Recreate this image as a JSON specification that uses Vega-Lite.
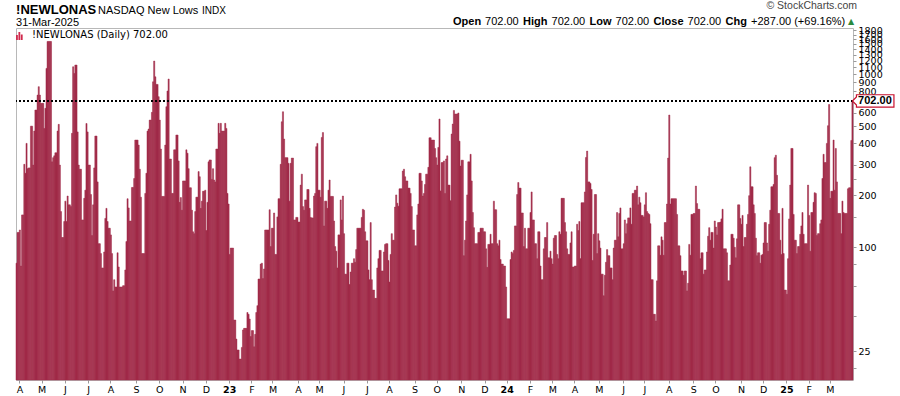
{
"$schema":"https://vega.github.io/schema/vega-lite/v6.json",
"width":837,"height":352,
"autosize":{"type":"none"},
"padding":{"left":16,"top":28,"right":47,"bottom":16},
"background":"white",
"config":{"view":{"stroke":"#b8b8b8","strokeWidth":1},"axis":{"grid":false,"domain":false,"title":null,"labelFont":"DejaVu Sans","labelColor":"#000000","tickColor":"#9a9a9a"}},
"data":{"values":[
{"i":0,"v":81},{"i":1,"v":122},{"i":2,"v":122},{"i":3,"v":126},{"i":4,"v":78},{"i":5,"v":154},{"i":6,"v":154},{"i":7,"v":302},{"i":8,"v":268},{"i":9,"v":399},
{"i":10,"v":285},{"i":11,"v":288},{"i":12,"v":288},{"i":13,"v":502},{"i":14,"v":502},{"i":15,"v":299},{"i":16,"v":470},{"i":17,"v":622},{"i":18,"v":622},{"i":19,"v":759},
{"i":20,"v":849},{"i":21,"v":759},{"i":22,"v":679},{"i":23,"v":680},{"i":24,"v":680},{"i":25,"v":487},{"i":26,"v":636},{"i":27,"v":1083},{"i":28,"v":1550},{"i":29,"v":1550},
{"i":30,"v":1550},{"i":31,"v":1550},{"i":32,"v":312},{"i":33,"v":330},{"i":34,"v":338},{"i":35,"v":352},{"i":36,"v":352},{"i":37,"v":470},{"i":38,"v":514},{"i":39,"v":299},
{"i":40,"v":161},{"i":41,"v":114},{"i":42,"v":114},{"i":43,"v":141},{"i":44,"v":185},{"i":45,"v":141},{"i":46,"v":198},{"i":47,"v":176},{"i":48,"v":176},{"i":49,"v":172},
{"i":50,"v":456},{"i":51,"v":1107},{"i":52,"v":1013},{"i":53,"v":1132},{"i":54,"v":1132},{"i":55,"v":465},{"i":56,"v":299},{"i":57,"v":283},{"i":58,"v":283},{"i":59,"v":144},
{"i":60,"v":144},{"i":61,"v":192},{"i":62,"v":214},{"i":63,"v":520},{"i":64,"v":465},{"i":65,"v":299},{"i":66,"v":299},{"i":67,"v":202},{"i":68,"v":117},{"i":69,"v":176},
{"i":70,"v":288},{"i":71,"v":440},{"i":72,"v":440},{"i":73,"v":239},{"i":74,"v":105},{"i":75,"v":105},{"i":76,"v":92},{"i":77,"v":76},{"i":78,"v":76},{"i":79,"v":94},
{"i":80,"v":147},{"i":81,"v":168},{"i":82,"v":141},{"i":83,"v":129},{"i":84,"v":129},{"i":85,"v":118},{"i":86,"v":92},{"i":87,"v":56},{"i":88,"v":65},{"i":89,"v":59},
{"i":90,"v":59},{"i":91,"v":93},{"i":92,"v":77},{"i":93,"v":59},{"i":94,"v":59},{"i":95,"v":59},{"i":96,"v":60},{"i":97,"v":60},{"i":98,"v":74},{"i":99,"v":108},
{"i":100,"v":191},{"i":101,"v":169},{"i":102,"v":142},{"i":103,"v":142},{"i":104,"v":222},{"i":105,"v":222},{"i":106,"v":250},{"i":107,"v":417},{"i":108,"v":417},{"i":109,"v":417},
{"i":110,"v":390},{"i":111,"v":283},{"i":112,"v":195},{"i":113,"v":92},{"i":114,"v":92},{"i":115,"v":92},{"i":116,"v":205},{"i":117,"v":268},{"i":118,"v":470},{"i":119,"v":483},
{"i":120,"v":544},{"i":121,"v":544},{"i":122,"v":603},{"i":123,"v":906},{"i":124,"v":1194},{"i":125,"v":968},{"i":126,"v":875},{"i":127,"v":875},{"i":128,"v":743},{"i":129,"v":544},
{"i":130,"v":370},{"i":131,"v":197},{"i":132,"v":197},{"i":133,"v":197},{"i":134,"v":390},{"i":135,"v":650},{"i":136,"v":801},{"i":137,"v":940},{"i":138,"v":324},{"i":139,"v":324},
{"i":140,"v":205},{"i":141,"v":205},{"i":142,"v":366},{"i":143,"v":366},{"i":144,"v":446},{"i":145,"v":446},{"i":146,"v":316},{"i":147,"v":182},{"i":148,"v":194},{"i":149,"v":164},
{"i":150,"v":242},{"i":151,"v":242},{"i":152,"v":242},{"i":153,"v":366},{"i":154,"v":350},{"i":155,"v":285},{"i":156,"v":221},{"i":157,"v":221},{"i":158,"v":164},{"i":159,"v":123},
{"i":160,"v":120},{"i":161,"v":161},{"i":162,"v":195},{"i":163,"v":195},{"i":164,"v":274},{"i":165,"v":256},{"i":166,"v":168},{"i":167,"v":185},{"i":168,"v":211},{"i":169,"v":211},
{"i":170,"v":214},{"i":171,"v":125},{"i":172,"v":182},{"i":173,"v":312},{"i":174,"v":320},{"i":175,"v":320},{"i":176,"v":247},{"i":177,"v":285},{"i":178,"v":245},{"i":179,"v":239},
{"i":180,"v":370},{"i":181,"v":370},{"i":182,"v":521},{"i":183,"v":456},{"i":184,"v":521},{"i":185,"v":470},{"i":186,"v":470},{"i":187,"v":470},{"i":188,"v":521},
{"i":189,"v":487},{"i":190,"v":205},{"i":191,"v":178},{"i":192,"v":91},{"i":193,"v":99},{"i":194,"v":99},{"i":195,"v":99},{"i":196,"v":38},{"i":197,"v":38},{"i":198,"v":29.5},
{"i":199,"v":25.5},{"i":200,"v":25.5},{"i":201,"v":22.6},{"i":202,"v":22.6},{"i":203,"v":26.4},{"i":204,"v":33.3},{"i":205,"v":34},{"i":206,"v":34},{"i":207,"v":34},{"i":208,"v":42},
{"i":209,"v":41},{"i":210,"v":38.5},{"i":211,"v":30.5},{"i":212,"v":33},{"i":213,"v":33},{"i":214,"v":26.6},{"i":215,"v":31.4},{"i":216,"v":42},{"i":217,"v":46},{"i":218,"v":65.6},
{"i":219,"v":65.6},{"i":220,"v":80},{"i":221,"v":81},{"i":222,"v":66},{"i":223,"v":75},{"i":224,"v":126},{"i":225,"v":126},{"i":226,"v":126},{"i":227,"v":126},{"i":228,"v":165},
{"i":229,"v":101},{"i":230,"v":129},{"i":231,"v":129},{"i":232,"v":158},{"i":233,"v":91},{"i":234,"v":91},{"i":235,"v":150},{"i":236,"v":191},{"i":237,"v":191},{"i":238,"v":302},
{"i":239,"v":532},{"i":240,"v":608},{"i":241,"v":423},{"i":242,"v":330},{"i":243,"v":330},{"i":244,"v":330},{"i":245,"v":306},{"i":246,"v":185},{"i":247,"v":306},{"i":248,"v":328},
{"i":249,"v":328},{"i":250,"v":144},{"i":251,"v":144},{"i":252,"v":149},{"i":253,"v":149},{"i":254,"v":140},{"i":255,"v":140},{"i":256,"v":229},{"i":257,"v":265},{"i":258,"v":172},
{"i":259,"v":164},{"i":260,"v":188},{"i":261,"v":188},{"i":262,"v":216},{"i":263,"v":216},{"i":264,"v":168},{"i":265,"v":149},{"i":266,"v":148},{"i":267,"v":148},{"i":268,"v":198},
{"i":269,"v":205},{"i":270,"v":382},{"i":271,"v":399},{"i":272,"v":214},{"i":273,"v":214},{"i":274,"v":195},{"i":275,"v":432},{"i":276,"v":461},{"i":277,"v":133},{"i":278,"v":185},
{"i":279,"v":185},{"i":280,"v":168},{"i":281,"v":214},{"i":282,"v":245},{"i":283,"v":197},{"i":284,"v":197},{"i":285,"v":197},{"i":286,"v":142},{"i":287,"v":101},{"i":288,"v":95},
{"i":289,"v":76},{"i":290,"v":118},{"i":291,"v":118},{"i":292,"v":188},{"i":293,"v":144},{"i":294,"v":198},{"i":295,"v":120},{"i":296,"v":70},{"i":297,"v":70},{"i":298,"v":81},
{"i":299,"v":81},{"i":300,"v":61},{"i":301,"v":72},{"i":302,"v":81},{"i":303,"v":81},{"i":304,"v":86},{"i":305,"v":82},{"i":306,"v":97},{"i":307,"v":129},{"i":308,"v":129},
{"i":309,"v":129},{"i":310,"v":129},{"i":311,"v":149},{"i":312,"v":166},{"i":313,"v":164},{"i":314,"v":123},{"i":315,"v":109},{"i":316,"v":109},{"i":317,"v":74},{"i":318,"v":65},
{"i":319,"v":139},{"i":320,"v":65},{"i":321,"v":56.6},{"i":322,"v":56.6},{"i":323,"v":50.7},{"i":324,"v":50.7},{"i":325,"v":76},{"i":326,"v":86},{"i":327,"v":96},{"i":328,"v":96},
{"i":329,"v":73},{"i":330,"v":73},{"i":331,"v":94},{"i":332,"v":104},{"i":333,"v":105},{"i":334,"v":105},{"i":335,"v":84},{"i":336,"v":63},{"i":337,"v":91},{"i":338,"v":120},
{"i":339,"v":110},{"i":340,"v":110},{"i":341,"v":171},{"i":342,"v":201},{"i":343,"v":180},{"i":344,"v":173},{"i":345,"v":218},{"i":346,"v":218},{"i":347,"v":218},{"i":348,"v":276},
{"i":349,"v":283},{"i":350,"v":256},{"i":351,"v":242},{"i":352,"v":242},{"i":353,"v":220},{"i":354,"v":220},{"i":355,"v":205},{"i":356,"v":172},{"i":357,"v":126},{"i":358,"v":126},
{"i":359,"v":102},{"i":360,"v":102},{"i":361,"v":154},{"i":362,"v":178},{"i":363,"v":268},{"i":364,"v":268},{"i":365,"v":242},{"i":366,"v":198},{"i":367,"v":205},{"i":368,"v":231},
{"i":369,"v":265},{"i":370,"v":265},{"i":371,"v":290},{"i":372,"v":430},{"i":373,"v":430},{"i":374,"v":417},{"i":375,"v":417},{"i":376,"v":417},{"i":377,"v":373},{"i":378,"v":330},
{"i":379,"v":299},{"i":380,"v":378},{"i":381,"v":552},{"i":382,"v":212},{"i":383,"v":309},{"i":384,"v":309},{"i":385,"v":316},{"i":386,"v":205},{"i":387,"v":324},{"i":388,"v":338},
{"i":389,"v":229},{"i":390,"v":229},{"i":391,"v":186},{"i":392,"v":452},{"i":393,"v":516},{"i":394,"v":619},{"i":395,"v":590},{"i":396,"v":590},{"i":397,"v":590},{"i":398,"v":598},
{"i":399,"v":411},{"i":400,"v":295},{"i":401,"v":319},{"i":402,"v":319},{"i":403,"v":89.5},{"i":404,"v":110},{"i":405,"v":142},{"i":406,"v":201},{"i":407,"v":312},{"i":408,"v":312},
{"i":409,"v":345},{"i":410,"v":242},{"i":411,"v":159},{"i":412,"v":130},{"i":413,"v":105},{"i":414,"v":105},{"i":415,"v":105},{"i":416,"v":122},{"i":417,"v":122},{"i":418,"v":129},
{"i":419,"v":129},{"i":420,"v":129},{"i":421,"v":123},{"i":422,"v":123},{"i":423,"v":98},{"i":424,"v":76.6},{"i":425,"v":104},{"i":426,"v":104},{"i":427,"v":119},{"i":428,"v":105},
{"i":429,"v":105},{"i":430,"v":185},{"i":431,"v":165},{"i":432,"v":165},{"i":433,"v":105},{"i":434,"v":102},{"i":435,"v":110},{"i":436,"v":85},{"i":437,"v":80},{"i":438,"v":80},
{"i":439,"v":78},{"i":440,"v":78},{"i":441,"v":59},{"i":442,"v":38.6},{"i":443,"v":38.6},{"i":444,"v":38.6},{"i":445,"v":85},{"i":446,"v":94},{"i":447,"v":92},{"i":448,"v":96},
{"i":449,"v":133},{"i":450,"v":133},{"i":451,"v":202},{"i":452,"v":237},{"i":453,"v":220},{"i":454,"v":220},{"i":455,"v":158},{"i":456,"v":158},{"i":457,"v":101},{"i":458,"v":129},
{"i":459,"v":98},{"i":460,"v":98},{"i":461,"v":129},{"i":462,"v":129},{"i":463,"v":159},{"i":464,"v":209},{"i":465,"v":144},{"i":466,"v":144},{"i":467,"v":105},{"i":468,"v":105},
{"i":469,"v":86},{"i":470,"v":123},{"i":471,"v":123},{"i":472,"v":78},{"i":473,"v":65},{"i":474,"v":65},{"i":475,"v":98},{"i":476,"v":114},{"i":477,"v":114},{"i":478,"v":139},
{"i":479,"v":87},{"i":480,"v":87},{"i":481,"v":95},{"i":482,"v":86},{"i":483,"v":80},{"i":484,"v":113},{"i":485,"v":117},{"i":486,"v":117},{"i":487,"v":91},{"i":488,"v":86},
{"i":489,"v":123},{"i":490,"v":119},{"i":491,"v":192},{"i":492,"v":192},{"i":493,"v":192},{"i":494,"v":139},{"i":495,"v":123},{"i":496,"v":98},{"i":497,"v":91},{"i":498,"v":91},
{"i":499,"v":106},{"i":500,"v":123},{"i":501,"v":77},{"i":502,"v":77},{"i":503,"v":78},{"i":504,"v":78},{"i":505,"v":136},{"i":506,"v":125},{"i":507,"v":141},{"i":508,"v":86},
{"i":509,"v":181},{"i":510,"v":181},{"i":511,"v":181},{"i":512,"v":209},{"i":513,"v":331},{"i":514,"v":360},{"i":515,"v":239},{"i":516,"v":239},{"i":517,"v":234},{"i":518,"v":216},
{"i":519,"v":84},{"i":520,"v":119},{"i":521,"v":202},{"i":522,"v":202},{"i":523,"v":92},{"i":524,"v":120},{"i":525,"v":109},{"i":526,"v":99},{"i":527,"v":70},{"i":528,"v":70},
{"i":529,"v":52.5},{"i":530,"v":69},{"i":531,"v":82},{"i":532,"v":97},{"i":533,"v":89.5},{"i":534,"v":89.5},{"i":535,"v":76},{"i":536,"v":76},{"i":537,"v":65},{"i":538,"v":99},
{"i":539,"v":110},{"i":540,"v":110},{"i":541,"v":159},{"i":542,"v":115},{"i":543,"v":157},{"i":544,"v":169},{"i":545,"v":98},{"i":546,"v":98},{"i":547,"v":105},{"i":548,"v":144},
{"i":549,"v":120},{"i":550,"v":137},{"i":551,"v":148},{"i":552,"v":148},{"i":553,"v":169},{"i":554,"v":136},{"i":555,"v":205},{"i":556,"v":205},{"i":557,"v":214},{"i":558,"v":214},
{"i":559,"v":226},{"i":560,"v":176},{"i":561,"v":195},{"i":562,"v":181},{"i":563,"v":153},{"i":564,"v":153},{"i":565,"v":150},{"i":566,"v":176},{"i":567,"v":207},
{"i":568,"v":161},{"i":569,"v":157},{"i":570,"v":155},{"i":571,"v":137},{"i":572,"v":65},{"i":573,"v":65},{"i":574,"v":41},{"i":575,"v":41},{"i":576,"v":37.5},{"i":577,"v":64},
{"i":578,"v":102},{"i":579,"v":102},{"i":580,"v":90},{"i":581,"v":115},{"i":582,"v":110},{"i":583,"v":90},{"i":584,"v":139},{"i":585,"v":139},{"i":586,"v":178},{"i":587,"v":328},
{"i":588,"v":582},{"i":589,"v":178},{"i":590,"v":191},{"i":591,"v":191},{"i":592,"v":191},{"i":593,"v":191},{"i":594,"v":191},{"i":595,"v":155},{"i":596,"v":102},{"i":597,"v":102},
{"i":598,"v":89.5},{"i":599,"v":73},{"i":600,"v":73},{"i":601,"v":69},{"i":602,"v":73},{"i":603,"v":73},{"i":604,"v":56},{"i":605,"v":62},{"i":606,"v":104},{"i":607,"v":90},
{"i":608,"v":155},{"i":609,"v":155},{"i":610,"v":157},{"i":611,"v":157},{"i":612,"v":226},{"i":613,"v":179},{"i":614,"v":166},{"i":615,"v":166},{"i":616,"v":86},{"i":617,"v":93},
{"i":618,"v":93},{"i":619,"v":70},{"i":620,"v":74},{"i":621,"v":74},{"i":622,"v":94},{"i":623,"v":116},{"i":624,"v":130},{"i":625,"v":110},{"i":626,"v":122},{"i":627,"v":122},
{"i":628,"v":99},{"i":629,"v":142},{"i":630,"v":131},{"i":631,"v":118},{"i":632,"v":139},{"i":633,"v":139},{"i":634,"v":140},{"i":635,"v":146},{"i":636,"v":166},{"i":637,"v":98},
{"i":638,"v":98},{"i":639,"v":98},{"i":640,"v":93},{"i":641,"v":64},{"i":642,"v":64},{"i":643,"v":79},{"i":644,"v":119},{"i":645,"v":119},{"i":646,"v":113},{"i":647,"v":100},
{"i":648,"v":87},{"i":649,"v":112},{"i":650,"v":176},{"i":651,"v":176},{"i":652,"v":147},{"i":653,"v":136},{"i":654,"v":153},{"i":655,"v":101},{"i":656,"v":114},{"i":657,"v":114},
{"i":658,"v":136},{"i":659,"v":155},{"i":660,"v":199},{"i":661,"v":292},{"i":662,"v":224},{"i":663,"v":224},{"i":664,"v":176},{"i":665,"v":157},{"i":666,"v":113},{"i":667,"v":89.5},
{"i":668,"v":93},{"i":669,"v":93},{"i":670,"v":81},{"i":671,"v":90},{"i":672,"v":91},{"i":673,"v":106},{"i":674,"v":139},{"i":675,"v":139},{"i":676,"v":106},{"i":677,"v":95},
{"i":678,"v":136},{"i":679,"v":164},{"i":680,"v":224},{"i":681,"v":224},{"i":682,"v":231},{"i":683,"v":330},{"i":684,"v":341},{"i":685,"v":261},{"i":686,"v":157},{"i":687,"v":157},
{"i":688,"v":110},{"i":689,"v":91},{"i":690,"v":168},{"i":691,"v":92},{"i":692,"v":56.6},{"i":693,"v":56.6},{"i":694,"v":53.5},{"i":695,"v":86},{"i":696,"v":146},{"i":697,"v":229},
{"i":698,"v":373},{"i":699,"v":373},{"i":700,"v":155},{"i":701,"v":110},{"i":702,"v":110},{"i":703,"v":92},{"i":704,"v":101},{"i":705,"v":101},{"i":706,"v":119},{"i":707,"v":133},
{"i":708,"v":159},{"i":709,"v":119},{"i":710,"v":105},{"i":711,"v":105},{"i":712,"v":105},{"i":713,"v":229},{"i":714,"v":153},{"i":715,"v":95},{"i":716,"v":159},{"i":717,"v":159},
{"i":718,"v":182},{"i":719,"v":207},{"i":720,"v":205},{"i":721,"v":117},{"i":722,"v":120},{"i":723,"v":120},{"i":724,"v":137},{"i":725,"v":144},{"i":726,"v":250},{"i":727,"v":345},
{"i":728,"v":309},{"i":729,"v":309},{"i":730,"v":399},{"i":731,"v":505},{"i":732,"v":670},{"i":733,"v":192},{"i":734,"v":211},{"i":735,"v":211},{"i":736,"v":417},{"i":737,"v":214},
{"i":738,"v":373},{"i":739,"v":239},{"i":740,"v":157},{"i":741,"v":157},{"i":742,"v":157},{"i":743,"v":120},{"i":744,"v":185},{"i":745,"v":159},{"i":746,"v":157},{"i":747,"v":157},
{"i":748,"v":157},{"i":749,"v":218},{"i":750,"v":221},{"i":751,"v":221},{"i":752,"v":415},{"i":753,"v":702}
]},
"layer":[
{"mark":{"type":"bar","color":"#a02b48","stroke":"#a02b48","strokeWidth":0.5},
 "encoding":{
  "x":{"field":"i","type":"ordinal","scale":{"paddingInner":0,"paddingOuter":0},
   "axis":{"values":[3,23,44,65,85,108,129,150,171,192,212,231,254,273,295,316,336,359,379,401,422,442,463,483,503,525,547,566,588,610,630,653,673,694,714,733],
    "labelExpr":"['A','M','J','J','A','S','O','N','D','23','F','M','A','M','J','J','A','S','O','N','D','24','F','M','A','M','J','J','A','S','O','N','D','25','F','M'][indexof([3,23,44,65,85,108,129,150,171,192,212,231,254,273,295,316,336,359,379,401,422,442,463,483,503,525,547,566,588,610,630,653,673,694,714,733], datum.value)]",
    "labelAngle":0,"labelFontSize":9.5,"labelPadding":1,"tickSize":3,"labelOverlap":false,
    "labelFontWeight":{"condition":{"test":"indexof([192,442,694], datum.value) >= 0","value":"bold"},"value":"normal"}}},
  "y":{"field":"v","type":"quantitative","stack":null,"scale":{"type":"log","domain":[17.1,1854],"nice":false},
   "axis":{"orient":"right","values":[20,25,40,60,80,100,150,200,250,300,400,500,600,700,800,900,1000,1100,1200,1300,1400,1500,1600,1700,1800],
    "labelExpr":"indexof([20,40,60,80,150,250,700], datum.value) >= 0 ? '' : format(datum.value, 'd')",
    "labelOverlap":false,"labelFontSize":9.5,"tickSize":3,"labelPadding":2,"labelBaseline":"middle"}},
  "y2":{"datum":17.1}}},
{"data":{"values":[{}]},"mark":{"type":"rule","color":"#000000","strokeWidth":2,"strokeDash":[2,2]},"encoding":{"y":{"datum":702}}},
{"data":{"values":[{}]},"mark":{"type":"point","shape":"M0,0L0.4,-0.4L0.4,-0.62L4.15,-0.62L4.15,0.62L0.4,0.62L0.4,0.4Z","size":400,"filled":true,"color":"#ffffff","stroke":"#c8102e","strokeWidth":1.2,"opacity":1},
 "encoding":{"x":{"datum":753,"type":"ordinal"},"y":{"datum":702}}},
{"data":{"values":[{}]},"mark":{"type":"text","text":"702.00","font":"Liberation Sans","fontSize":11,"fontWeight":"bold","align":"center","baseline":"middle","dx":22.5,"dy":0.5,"color":"#000000"},
 "encoding":{"x":{"datum":753,"type":"ordinal"},"y":{"datum":702}}},
{"data":{"values":[{}]},"mark":{"type":"point","shape":"M-0.5,12V7H1.3V12ZM1.9,12V4H3.7V12ZM4.3,12V6.5H6.1V12Z","size":4,"filled":true,"color":"#d0284c","opacity":1},
 "encoding":{"x":{"datum":0,"type":"ordinal"},"y":{"datum":1854}}},
{"data":{"values":[{}]},"mark":{"type":"text","text":"!NEWLONAS (Daily) 702.00","font":"DejaVu Sans","fontSize":10,"align":"left","baseline":"alphabetic","dx":15.5,"dy":10,"color":"#000000"},
 "encoding":{"x":{"datum":0,"type":"ordinal"},"y":{"datum":1854}}},
{"data":{"values":[{}]},"mark":{"type":"text","text":"!NEWLONAS","font":"Liberation Sans","fontSize":13,"fontWeight":"bold","align":"left","baseline":"alphabetic","dx":-0.5,"dy":-14.5,"color":"#000000"},
 "encoding":{"x":{"datum":0,"type":"ordinal"},"y":{"datum":1854}}},
{"data":{"values":[{}]},"mark":{"type":"text","text":"NASDAQ New Lows","font":"Liberation Sans","fontSize":11,"align":"left","baseline":"alphabetic","dx":81.5,"dy":-14.5,"color":"#000000"},
 "encoding":{"x":{"datum":0,"type":"ordinal"},"y":{"datum":1854}}},
{"data":{"values":[{}]},"mark":{"type":"text","text":"INDX","font":"Liberation Sans","fontSize":10,"align":"left","baseline":"alphabetic","dx":185.5,"dy":-14.5,"color":"#000000"},
 "encoding":{"x":{"datum":0,"type":"ordinal"},"y":{"datum":1854}}},
{"data":{"values":[{}]},"mark":{"type":"text","text":"31-Mar-2025","font":"Liberation Sans","fontSize":11,"align":"left","baseline":"alphabetic","dx":-0.5,"dy":-2,"color":"#000000"},
 "encoding":{"x":{"datum":0,"type":"ordinal"},"y":{"datum":1854}}},
{"data":{"values":[{}]},"mark":{"type":"text","text":"© StockCharts.com","font":"Liberation Sans","fontSize":10.5,"align":"right","baseline":"alphabetic","dx":840.5,"dy":-19,"color":"#444444"},
 "encoding":{"x":{"datum":0,"type":"ordinal"},"y":{"datum":1854}}},
{"data":{"values":[{}]},"mark":{"type":"text","text":"Open","font":"Liberation Sans","fontSize":11,"fontWeight":"bold","align":"left","baseline":"alphabetic","dx":436.5,"dy":-3,"color":"#000000"},
 "encoding":{"x":{"datum":0,"type":"ordinal"},"y":{"datum":1854}}},
{"data":{"values":[{}]},"mark":{"type":"text","text":"702.00","font":"Liberation Sans","fontSize":11,"align":"left","baseline":"alphabetic","dx":468.5,"dy":-3,"color":"#000000"},
 "encoding":{"x":{"datum":0,"type":"ordinal"},"y":{"datum":1854}}},
{"data":{"values":[{}]},"mark":{"type":"text","text":"High","font":"Liberation Sans","fontSize":11,"fontWeight":"bold","align":"left","baseline":"alphabetic","dx":506.5,"dy":-3,"color":"#000000"},
 "encoding":{"x":{"datum":0,"type":"ordinal"},"y":{"datum":1854}}},
{"data":{"values":[{}]},"mark":{"type":"text","text":"702.00","font":"Liberation Sans","fontSize":11,"align":"left","baseline":"alphabetic","dx":535,"dy":-3,"color":"#000000"},
 "encoding":{"x":{"datum":0,"type":"ordinal"},"y":{"datum":1854}}},
{"data":{"values":[{}]},"mark":{"type":"text","text":"Low","font":"Liberation Sans","fontSize":11,"fontWeight":"bold","align":"left","baseline":"alphabetic","dx":573,"dy":-3,"color":"#000000"},
 "encoding":{"x":{"datum":0,"type":"ordinal"},"y":{"datum":1854}}},
{"data":{"values":[{}]},"mark":{"type":"text","text":"702.00","font":"Liberation Sans","fontSize":11,"align":"left","baseline":"alphabetic","dx":599,"dy":-3,"color":"#000000"},
 "encoding":{"x":{"datum":0,"type":"ordinal"},"y":{"datum":1854}}},
{"data":{"values":[{}]},"mark":{"type":"text","text":"Close","font":"Liberation Sans","fontSize":11,"fontWeight":"bold","align":"left","baseline":"alphabetic","dx":637,"dy":-3,"color":"#000000"},
 "encoding":{"x":{"datum":0,"type":"ordinal"},"y":{"datum":1854}}},
{"data":{"values":[{}]},"mark":{"type":"text","text":"702.00","font":"Liberation Sans","fontSize":11,"align":"left","baseline":"alphabetic","dx":671,"dy":-3,"color":"#000000"},
 "encoding":{"x":{"datum":0,"type":"ordinal"},"y":{"datum":1854}}},
{"data":{"values":[{}]},"mark":{"type":"text","text":"Chg","font":"Liberation Sans","fontSize":11,"fontWeight":"bold","align":"left","baseline":"alphabetic","dx":709,"dy":-3,"color":"#000000"},
 "encoding":{"x":{"datum":0,"type":"ordinal"},"y":{"datum":1854}}},
{"data":{"values":[{}]},"mark":{"type":"text","text":"+287.00 (+69.16%)","font":"Liberation Sans","fontSize":11,"align":"left","baseline":"alphabetic","dx":734.5,"dy":-3,"color":"#000000"},
 "encoding":{"x":{"datum":0,"type":"ordinal"},"y":{"datum":1854}}},
{"data":{"values":[{}]},"mark":{"type":"text","text":"▲","font":"DejaVu Sans","fontSize":8,"align":"center","baseline":"alphabetic","dx":834.5,"dy":-4,"color":"#2b8a3e"},
 "encoding":{"x":{"datum":0,"type":"ordinal"},"y":{"datum":1854}}}
]
}
